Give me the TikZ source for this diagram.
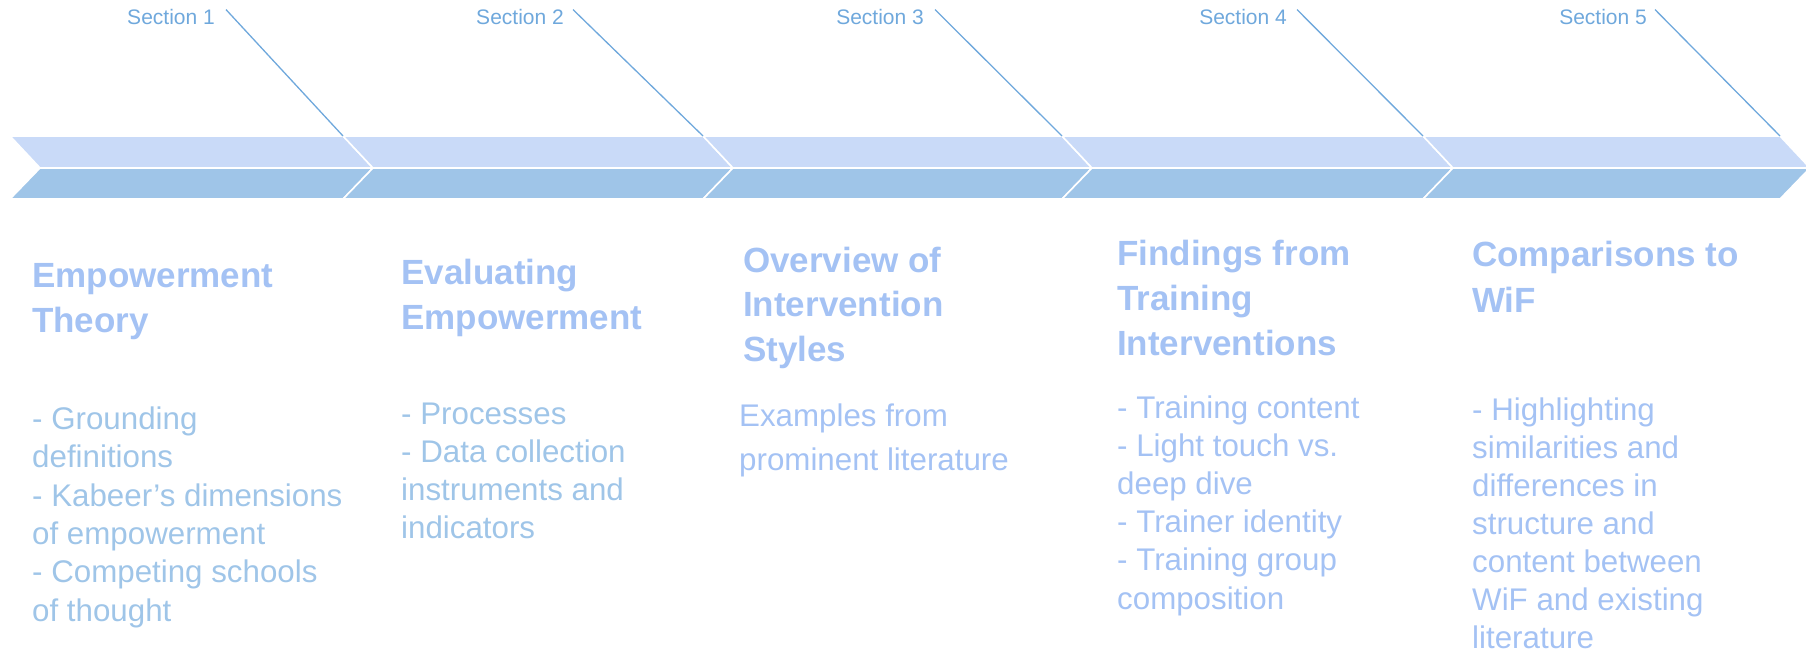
\documentclass[tikz,border=0pt]{standalone}
\usepackage{fontspec}
\setmainfont{Liberation Sans}
\usetikzlibrary{positioning}

\definecolor{bandtop}{HTML}{C9DAF8}
\definecolor{bandbot}{HTML}{9FC5E8}
\definecolor{headblue}{HTML}{A4C2F4}
\definecolor{bodyblue}{HTML}{9FC5E8}
\definecolor{secblue}{HTML}{6FA8DC}

\tikzset{
    upper/.style={fill=bandtop, draw=white, line width=1.6pt},
    lower/.style={fill=bandbot, draw=white, line width=1.6pt},
    seclabel/.style={anchor=base east, inner sep=0pt, text=secblue,
        font=\fontsize{21}{25}\selectfont},
    leader/.style={draw=secblue, line width=1.3pt},
    % multi-line nodes sit on the baseline of their last line
    heading/.style={anchor=base west, align=left, inner sep=0pt, text=headblue,
        font=\bfseries\fontsize{35}{45}\selectfont},
    bullets/.style={anchor=base west, align=left, inner sep=0pt, text=headblue,
        font=\fontsize{31.3}{38.2}\selectfont}
}

\begin{document}
\begin{tikzpicture}[x=1pt, y=-1pt]

\useasboundingbox (0,0) rectangle (1806,652);

% ------------------------------------------------------------
% Chevron band: light upper half, darker lower half
% ------------------------------------------------------------

\foreach \a/\b [count=\i] in {40/373, 373/733, 733/1092, 1092/1453, 1453/1810} {
    \coordinate (top\i) at ({\b-30},136);
    \draw[upper] ({\a-30},136) -- (top\i) -- (\b,168) -- (\a,168) -- cycle;
    \draw[lower] (\a,168) -- (\b,168) -- ({\b-30},199) -- ({\a-30},199) -- cycle;
}

% ------------------------------------------------------------
% Section labels and their leader lines
% ------------------------------------------------------------

\node[seclabel] (sec1) at (215,25) {Section 1};
\node[seclabel] (sec2) at (564,25) {Section 2};
\node[seclabel] (sec3) at (924,25) {Section 3};
\node[seclabel] (sec4) at (1287,25) {Section 4};
\node[seclabel] (sec5) at (1647,25) {Section 5};

\draw[leader] ([xshift=11pt]sec1.north east) -- (top1);
\draw[leader] ([xshift=9pt]sec2.north east) -- (top2);
\draw[leader] ([xshift=11pt]sec3.north east) -- (top3);
\draw[leader] ([xshift=10pt]sec4.north east) -- (top4);
\draw[leader] ([xshift=8pt]sec5.north east) -- (top5);

% ------------------------------------------------------------
% Column texts
% ------------------------------------------------------------

\node[heading] (head1) at (32,332) {Empowerment\\Theory};
\node[bullets, text=bodyblue, font=\fontsize{31.3}{38.3}\selectfont] (body1) at (32,621)
    {- Grounding\\definitions\\- Kabeer’s dimensions\\of empowerment\\- Competing schools\\of thought};

\node[heading] (head2) at (401,329) {Evaluating\\Empowerment};
\node[bullets, text=bodyblue, font=\fontsize{31.3}{38}\selectfont] (body2) at (401,538)
    {- Processes\\- Data collection\\instruments and\\indicators};

\node[heading, font=\bfseries\fontsize{35}{44.5}\selectfont] (head3) at (743,361)
    {Overview of\\Intervention\\Styles};
\node[bullets, font=\fontsize{31.3}{44}\selectfont] (body3) at (739,470)
    {Examples from\\prominent literature};

\node[heading] (head4) at (1117,355) {Findings from\\Training\\Interventions};
\node[bullets] (body4) at (1117,609)
    {- Training content\\- Light touch vs.\\deep dive\\- Trainer identity\\- Training group\\composition};

\node[heading] (head5) at (1472,312) {Comparisons to\\WiF};
\node[bullets, font=\fontsize{31.3}{38}\selectfont] (body5) at (1472,648)
    {- Highlighting\\similarities and\\differences in\\structure and\\content between\\WiF and existing\\literature};

\end{tikzpicture}
\end{document}
